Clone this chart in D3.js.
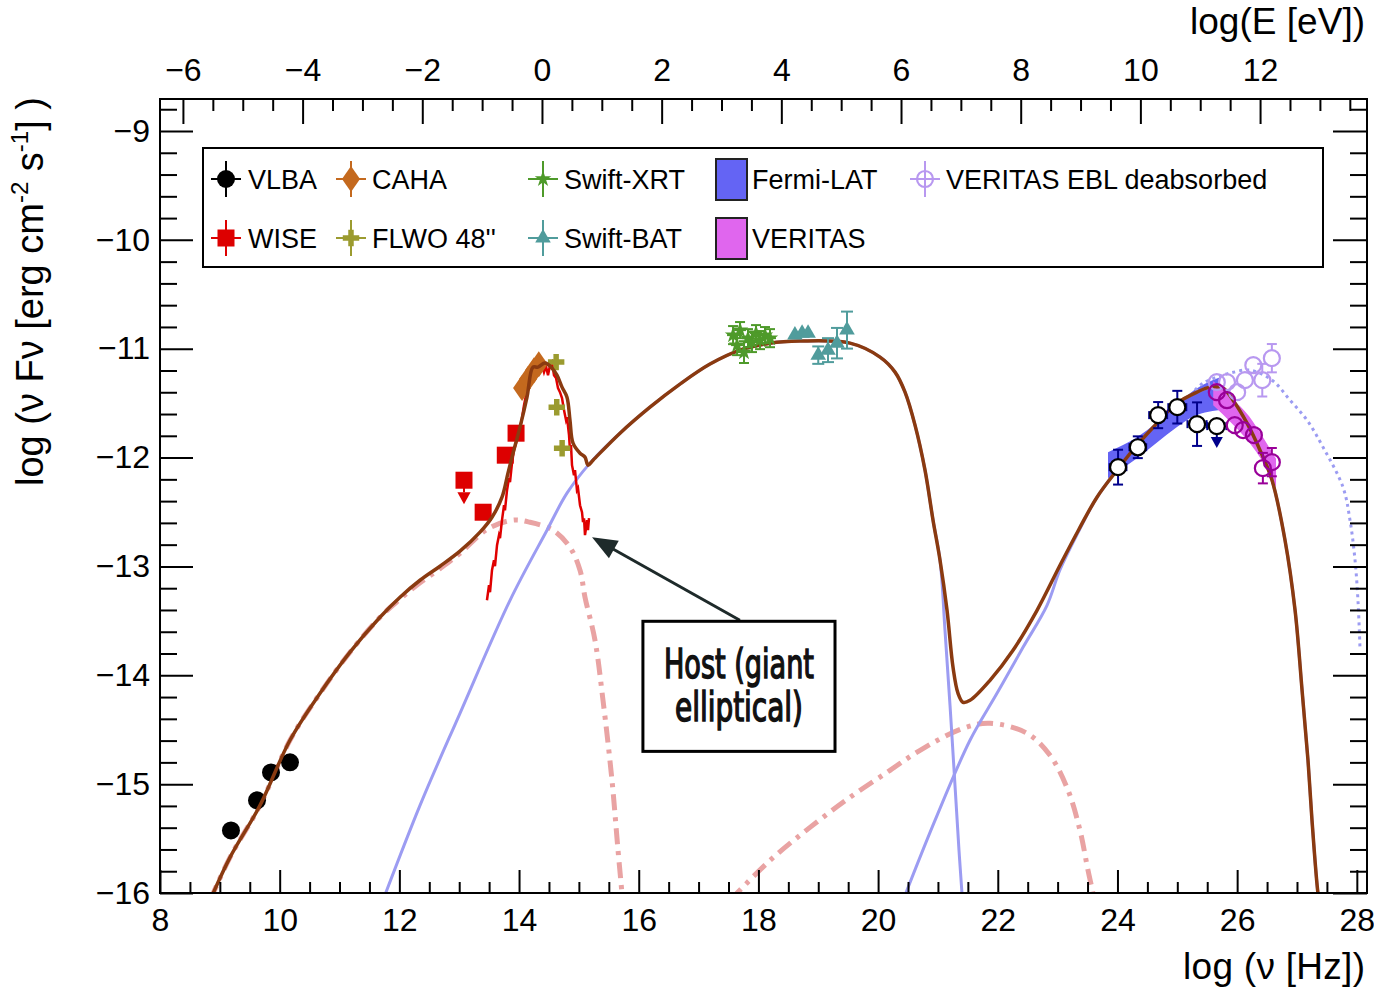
<!DOCTYPE html>
<html>
<head>
<meta charset="utf-8">
<script src="https://cdn.jsdelivr.net/npm/d3@7"></script>
<style>
  html, body { margin: 0; padding: 0; background: #fff; }
  svg { display: block; font-family: "Liberation Sans", Arial, Helvetica, sans-serif; }
</style>
</head>
<body>
<svg id="chart" width="1374" height="991"></svg>
<script>
// ---------------- axis ranges and ticks ----------------
const nuDomain = [8, 28.17];
const fluxDomain = [-16, -8.706];
const logPlanck = 14.383;               // log10(nu/Hz) - log10(E/eV)
const nuMajor = [8, 10, 12, 14, 16, 18, 20, 22, 24, 26, 28];
const nuMinor = d3.range(8, 28.2, 0.5).filter(v => v % 2 !== 0);
const eMajor = [-6, -4, -2, 0, 2, 4, 6, 8, 10, 12];
const eMinor = d3.range(-6, 13.8, 0.5).filter(v => v % 2 !== 0);
const fluxMajor = [-16, -15, -14, -13, -12, -11, -10, -9];
const fluxMinor = d3.range(0, 37).map(i => +(-16 + i * 0.2).toFixed(1)).filter(v => !Number.isInteger(v));

// ---------------- observations ----------------
const vlbaNu   = [9.186, 9.621, 9.855, 10.172];
const vlbaFlux = [-15.425, -15.149, -14.892, -14.800];

const wiseNu   = [13.08, 13.40, 13.77, 13.95];
const wiseFlux = [-12.208, -12.502, -11.978, -11.776];
const wiseUL   = [true, false, false, false];

const cahaNu   = [14.05, 14.15, 14.25, 14.33];
const cahaFlux = [-11.362, -11.279, -11.197, -11.142];

const flwoNu   = [14.62, 14.63, 14.72];
const flwoFlux = [-11.123, -11.537, -11.914];

const xrtNu   = [17.576, 17.643, 17.693, 17.759, 17.826, 17.893, 17.960, 18.027, 18.110, 18.194];
const xrtFlux = [-10.875, -10.967, -10.829, -11.031, -10.903, -10.939, -10.857, -10.921, -10.875, -10.903];
const xrtErr  = [0.083, 0.092, 0.074, 0.10, 0.083, 0.092, 0.074, 0.083, 0.074, 0.083];

const batNu   = [18.61, 18.73, 18.83, 19.00, 19.163, 19.313, 19.480];
const batFlux = [-10.875, -10.857, -10.857, -11.059, -11.013, -10.949, -10.829];
const batErr  = [0, 0, 0, 0.08, 0.11, 0.14, 0.17];

const fermiNu    = [24.01, 24.34, 24.68, 25.00, 25.33, 25.66];
const fermiFlux  = [-12.088, -11.905, -11.610, -11.537, -11.693, -11.711];
const fermiErr   = [0.16, 0.10, 0.12, 0.15, 0.20, 0];
const fermiNuErr = [0.14, 0.14, 0.15, 0.15, 0.16, 0.16];
const fermiUL    = [false, false, false, false, false, true];

const fermiBandNu    = [23.842, 24.327, 24.995, 25.212, 25.714];
const fermiBandUpper = [-11.950, -11.813, -11.518, -11.408, -11.261];
const fermiBandLower = [-12.189, -12.006, -11.720, -11.638, -11.564];

const veritasBandNu    = [25.60, 25.90, 26.20, 26.45, 26.65];
const veritasBandUpper = [-11.30, -11.45, -11.62, -11.83, -12.01];
const veritasBandLower = [-11.52, -11.68, -11.86, -12.06, -12.27];

const veritasNu   = [25.66, 25.83, 25.96, 26.10, 26.28, 26.43, 26.58];
const veritasFlux = [-11.399, -11.473, -11.702, -11.748, -11.794, -12.097, -12.042];
const veritasErr  = [0.03, 0.04, 0.04, 0.05, 0.06, 0.14, 0.13];

const deabsNu   = [25.66, 25.83, 26.00, 26.13, 26.27, 26.42, 26.58];
const deabsFlux = [-11.307, -11.307, -11.399, -11.289, -11.151, -11.289, -11.087];
const deabsErr  = [0.03, 0.04, 0.04, 0.05, 0.06, 0.15, 0.13];

// host galaxy optical spectrum
const hostSpecNu = [13.464,13.498,13.515,13.548,13.581,13.598,13.632,13.665,13.682,13.715,13.749,13.765,13.799,13.832,13.849,13.882,13.916,13.949,13.983,14.016,14.049,14.083,14.116,14.150,14.183,14.217,14.250,14.283,14.317,14.350,14.384,14.417,14.450,14.484,14.517,14.551,14.584,14.618,14.651,14.684,14.718,14.751,14.785,14.801,14.835,14.851,14.868,14.885,14.918,14.935,14.968,14.985,15.019,15.052,15.069,15.086,15.102,15.119,15.136,15.152,15.169];
const hostSpecFlux = [-13.311,-13.173,-13.237,-13.035,-12.943,-12.998,-12.805,-12.713,-12.741,-12.575,-12.438,-12.484,-12.300,-12.189,-12.226,-12.051,-11.932,-11.868,-11.794,-11.730,-11.638,-11.518,-11.427,-11.335,-11.261,-11.197,-11.142,-11.160,-11.123,-11.179,-11.151,-11.215,-11.160,-11.243,-11.151,-11.123,-11.243,-11.270,-11.362,-11.399,-11.454,-11.564,-11.656,-11.629,-11.794,-11.932,-11.886,-12.070,-12.162,-12.116,-12.300,-12.282,-12.438,-12.502,-12.594,-12.557,-12.713,-12.649,-12.575,-12.667,-12.557];

// ---------------- model components ----------------
const totalNu = [8.836,9.170,9.671,10.172,10.674,11.175,11.676,12.011,12.345,12.679,13.013,13.348,13.548,13.715,13.815,13.899,14.016,14.133,14.233,14.317,14.434,14.551,14.634,14.718,14.801,14.851,14.902,15.019,15.102,15.152,15.236,15.687,16.188,16.689,17.191,17.692,18.194,18.695,19.531,20.032,20.283,20.450,20.617,20.784,20.918,21.035,21.152,21.252,21.336,21.419,21.536,21.870,22.255,22.656,23.040,23.350,23.658,23.992,24.327,24.661,24.995,25.329,25.547,25.764,25.931,26.165,26.382,26.583,26.800,26.968,27.085,27.184,27.251,27.351,27.385];
const totalFlux = [-16.068,-15.673,-15.195,-14.597,-14.166,-13.788,-13.467,-13.283,-13.127,-12.998,-12.860,-12.685,-12.548,-12.364,-12.143,-11.960,-11.720,-11.445,-11.169,-11.169,-11.132,-11.179,-11.243,-11.353,-11.445,-11.656,-11.868,-11.960,-11.996,-12.070,-12.024,-11.776,-11.537,-11.325,-11.141,-11.013,-10.949,-10.930,-10.949,-11.077,-11.215,-11.399,-11.702,-12.116,-12.575,-12.943,-13.403,-13.926,-14.166,-14.248,-14.230,-14.046,-13.770,-13.403,-12.989,-12.665,-12.364,-12.116,-11.886,-11.684,-11.500,-11.399,-11.353,-11.362,-11.473,-11.684,-11.932,-12.208,-12.759,-13.403,-14.138,-14.781,-15.333,-16.004,-16.113];

const hostModelNu   = [8.836,9.170,9.671,10.172,10.674,11.175,11.676,12.011,12.345,12.679,13.013,13.464,13.899,14.183,14.567,14.851,15.019,15.102,15.269,15.403,15.553,15.654,15.720,15.737];
const hostModelFlux = [-16.068,-15.673,-15.195,-14.597,-14.166,-13.788,-13.467,-13.300,-13.150,-13.020,-12.880,-12.660,-12.575,-12.594,-12.667,-12.824,-13.035,-13.283,-13.678,-14.230,-14.965,-15.608,-16.004,-16.120];

const syncNu   = [11.693,12.345,13.013,13.849,14.467,14.801,15.186,15.687,16.188,16.689,17.191,17.692,18.194,18.695,19.531,20.032,20.283,20.450,20.617,20.784,20.918,21.035,21.118,21.202,21.285,21.352,21.402,21.419];
const syncFlux = [-16.114,-15.195,-14.349,-13.311,-12.667,-12.327,-12.051,-11.776,-11.537,-11.325,-11.141,-11.013,-10.949,-10.930,-10.949,-11.077,-11.215,-11.399,-11.702,-12.116,-12.575,-12.943,-13.587,-14.276,-15.011,-15.608,-16.004,-16.142];

const sscNu   = [20.416,20.951,21.536,21.987,22.422,22.823,23.040,23.350,23.658,23.992,24.327,24.661,24.995,25.329,25.547,25.764,25.931,26.165,26.382,26.583,26.800,26.968,27.085,27.184,27.251,27.351,27.385];
const sscFlux = [-16.068,-15.333,-14.597,-14.166,-13.743,-13.357,-13.030,-12.680,-12.364,-12.116,-11.886,-11.684,-11.500,-11.399,-11.353,-11.362,-11.473,-11.684,-11.932,-12.208,-12.759,-13.403,-14.138,-14.781,-15.333,-16.004,-16.113];

const ecNu   = [17.525,18.194,18.862,19.531,20.199,20.701,21.419,21.870,22.488,22.873,23.174,23.374,23.508,23.591,23.625];
const ecFlux = [-16.068,-15.700,-15.397,-15.121,-14.873,-14.689,-14.487,-14.441,-14.533,-14.735,-15.057,-15.425,-15.792,-16.004,-16.114];

const deabsModelNu   = [25.296,25.430,25.664,25.881,26.215,26.583,26.884,27.167,27.435,27.769,27.886,27.970,28.019,28.053];
const deabsModelFlux = [-11.381,-11.316,-11.261,-11.224,-11.197,-11.289,-11.473,-11.656,-11.904,-12.272,-12.575,-12.943,-13.311,-13.752];

// ---------------- annotation ----------------
const hostLabelLines = ["Host (giant", "elliptical)"];
const hostBoxNu   = [16.07, 19.28];
const hostBoxFlux = [-13.504, -14.699];
const arrowTail = [17.69, -13.495];
const arrowTip  = [15.22, -12.732];

// ---------------- colours ----------------
const C = {
  total: "#8a3a10", comp: "#9c9cf2", host: "#e9a3a3", spec: "#e00000",
  vlba: "#000000", wise: "#dd0000", caha: "#c4691e", flwo: "#9b9b2f",
  xrt: "#4e9a2a", bat: "#509c9c", fermiBand: "#6464f4", veritasBand: "#e066ee",
  fermiErr: "#00008b", veritas: "#990099", deabs: "#b898f0"
};

// ---------------- layout ----------------
const W = 1374, H = 991;
const plot = { left: 160, right: 1367, top: 99, bottom: 893 };
const FONT = '"Liberation Sans", Arial, Helvetica, sans-serif';

const svg = d3.select("#chart");
svg.append("rect").attr("width", W).attr("height", H).attr("fill", "#fff");

const x  = d3.scaleLinear().domain(nuDomain).range([plot.left, plot.right]);
const xE = d3.scaleLinear().domain(nuDomain.map(v => v - logPlanck)).range([plot.left, plot.right]);
const y  = d3.scaleLinear().domain(fluxDomain).range([plot.bottom, plot.top]);

svg.append("defs").append("clipPath").attr("id", "plotArea")
  .append("rect").attr("x", plot.left).attr("y", plot.top)
  .attr("width", plot.right - plot.left).attr("height", plot.bottom - plot.top);
const g = svg.append("g").attr("clip-path", "url(#plotArea)");

const smooth = d3.line().x(d => x(d[0])).y(d => y(d[1])).curve(d3.curveCatmullRom.alpha(0.5));
const straight = d3.line().x(d => x(d[0])).y(d => y(d[1]));
const band = d3.area().x(d => x(d[0])).y0(d => y(d[2])).y1(d => y(d[1])).curve(d3.curveMonotoneX);

// ---------------- bands ----------------
g.append("path").datum(d3.zip(fermiBandNu, fermiBandUpper, fermiBandLower))
  .attr("d", band).attr("fill", C.fermiBand);
g.append("path").datum(d3.zip(veritasBandNu, veritasBandUpper, veritasBandLower))
  .attr("d", band).attr("fill", C.veritasBand);

// ---------------- model components ----------------
const dashDot = "16,7,4,7";
g.append("path").datum(d3.zip(ecNu, ecFlux)).attr("d", smooth)
  .attr("fill", "none").attr("stroke", C.host).attr("stroke-width", 5).attr("stroke-dasharray", dashDot);
g.append("path").datum(d3.zip(hostModelNu, hostModelFlux)).attr("d", smooth)
  .attr("fill", "none").attr("stroke", C.host).attr("stroke-width", 5).attr("stroke-dasharray", dashDot);
g.append("path").datum(d3.zip(syncNu, syncFlux)).attr("d", smooth)
  .attr("fill", "none").attr("stroke", C.comp).attr("stroke-width", 3);
g.append("path").datum(d3.zip(sscNu, sscFlux)).attr("d", smooth)
  .attr("fill", "none").attr("stroke", C.comp).attr("stroke-width", 3);
g.append("path").datum(d3.zip(deabsModelNu, deabsModelFlux)).attr("d", smooth)
  .attr("fill", "none").attr("stroke", C.comp).attr("stroke-width", 3).attr("stroke-dasharray", "3,4");
g.append("path").datum(d3.zip(hostSpecNu, hostSpecFlux)).attr("d", straight)
  .attr("fill", "none").attr("stroke", C.spec).attr("stroke-width", 2.5).attr("stroke-linejoin", "miter");

// ---------------- marker helpers ----------------
function marker(p, kind, cx, cy, color, fill) {
  switch (kind) {
    case "dot":
      p.append("circle").attr("cx", cx).attr("cy", cy).attr("r", 9).attr("fill", color); break;
    case "square":
      p.append("rect").attr("x", cx - 8.5).attr("y", cy - 8.5).attr("width", 17).attr("height", 17).attr("fill", color); break;
    case "diamond":
      p.append("path").attr("d", `M${cx},${cy - 13}L${cx + 9},${cy}L${cx},${cy + 13}L${cx - 9},${cy}Z`).attr("fill", color); break;
    case "star":
      p.append("path").attr("transform", `translate(${cx},${cy})`).attr("d", d3.symbol(d3.symbolStar, 85)()).attr("fill", color); break;
    case "plus":
      p.append("path").attr("transform", `translate(${cx},${cy})`).attr("d", d3.symbol(d3.symbolCross, 150)()).attr("fill", color); break;
    case "triangle":
      p.append("path").attr("transform", `translate(${cx},${cy})`).attr("d", d3.symbol(d3.symbolTriangle, 105)()).attr("fill", color); break;
    case "ring":
      p.append("circle").attr("cx", cx).attr("cy", cy).attr("r", 8).attr("fill", fill || "none").attr("stroke", color).attr("stroke-width", 2.2); break;
  }
}
function seg(p, x1, y1, x2, y2, color, w) {
  p.append("line").attr("x1", x1).attr("y1", y1).attr("x2", x2).attr("y2", y2)
    .attr("stroke", color).attr("stroke-width", w || 2);
}
// vertical error bar with caps, leaving a gap of r around the marker
function vErr(p, cx, cy, yTop, yBot, color, r, cap) {
  if (yTop < cy - r) { seg(p, cx, cy - r, cx, yTop, color); seg(p, cx - cap, yTop, cx + cap, yTop, color); }
  if (yBot > cy + r) { seg(p, cx, cy + r, cx, yBot, color); seg(p, cx - cap, yBot, cx + cap, yBot, color); }
}
function hErr(p, cy, cx, xL, xR, color, r, cap) {
  if (xL < cx - r) { seg(p, cx - r, cy, xL, cy, color); seg(p, xL, cy - cap, xL, cy + cap, color); }
  if (xR > cx + r) { seg(p, cx + r, cy, xR, cy, color); seg(p, xR, cy - cap, xR, cy + cap, color); }
}
function downArrow(p, cx, cy, len, color, head) {
  seg(p, cx, cy, cx, cy + len - head, color, 2);
  p.append("path").attr("d", `M${cx - head * 0.55},${cy + len - head}L${cx + head * 0.55},${cy + len - head}L${cx},${cy + len}Z`).attr("fill", color);
}

// ---------------- low-energy data (under the total model) ----------------
vlbaNu.forEach((n, i) => marker(g, "dot", x(n), y(vlbaFlux[i]), C.vlba));
wiseNu.forEach((n, i) => {
  if (wiseUL[i]) downArrow(g, x(n), y(wiseFlux[i]), 24, C.wise, 12);
  marker(g, "square", x(n), y(wiseFlux[i]), C.wise);
});
cahaNu.forEach((n, i) => marker(g, "diamond", x(n), y(cahaFlux[i]), C.caha));
flwoNu.forEach((n, i) => marker(g, "plus", x(n), y(flwoFlux[i]), C.flwo));

// ---------------- total model ----------------
g.append("path").datum(d3.zip(totalNu, totalFlux)).attr("d", smooth)
  .attr("fill", "none").attr("stroke", C.total).attr("stroke-width", 3.5).attr("stroke-linejoin", "round");

// ---------------- X-ray and gamma-ray data ----------------
xrtNu.forEach((n, i) => {
  const cx = x(n), cy = y(xrtFlux[i]);
  vErr(g, cx, cy, y(xrtFlux[i] + xrtErr[i]), y(xrtFlux[i] - xrtErr[i]), C.xrt, 0, 5);
  hErr(g, cy, cx, cx - 6, cx + 6, C.xrt, 0, 0);
  marker(g, "star", cx, cy, C.xrt);
});
batNu.forEach((n, i) => {
  const cx = x(n), cy = y(batFlux[i]);
  if (batErr[i] > 0) vErr(g, cx, cy, y(batFlux[i] + batErr[i]), y(batFlux[i] - batErr[i]), C.bat, 0, 6);
  marker(g, "triangle", cx, cy, C.bat);
});
fermiNu.forEach((n, i) => {
  const cx = x(n), cy = y(fermiFlux[i]);
  hErr(g, cy, cx, x(n - fermiNuErr[i]), x(n + fermiNuErr[i]), C.fermiErr, 8, 4);
  if (fermiUL[i]) downArrow(g, cx, cy, 22, C.fermiErr, 11);
  else vErr(g, cx, cy, y(fermiFlux[i] + fermiErr[i]), y(fermiFlux[i] - fermiErr[i]), C.fermiErr, 8, 5);
  marker(g, "ring", cx, cy, "#000", "#fff");
});
deabsNu.forEach((n, i) => {
  const cx = x(n), cy = y(deabsFlux[i]);
  vErr(g, cx, cy, y(deabsFlux[i] + deabsErr[i]), y(deabsFlux[i] - deabsErr[i]), C.deabs, 8, 5);
  marker(g, "ring", cx, cy, C.deabs);
});
veritasNu.forEach((n, i) => {
  const cx = x(n), cy = y(veritasFlux[i]);
  vErr(g, cx, cy, y(veritasFlux[i] + veritasErr[i]), y(veritasFlux[i] - veritasErr[i]), C.veritas, 8, 5);
  marker(g, "ring", cx, cy, C.veritas);
});

// ---------------- host galaxy annotation ----------------
{
  const tx = x(arrowTail[0]), ty = y(arrowTail[1]);
  const hx = x(arrowTip[0]), hy = y(arrowTip[1]);
  const len = Math.hypot(hx - tx, hy - ty), ux = (hx - tx) / len, uy = (hy - ty) / len;
  const headL = 25, headW = 10;
  const bx = hx - ux * headL, by = hy - uy * headL;
  seg(svg, tx, ty, bx + ux * 2, by + uy * 2, "#1e2a2a", 3);
  svg.append("path")
    .attr("d", `M${hx},${hy}L${bx - uy * headW},${by + ux * headW}L${bx + uy * headW},${by - ux * headW}Z`)
    .attr("fill", "#1e2a2a");

  const bx0 = x(hostBoxNu[0]), bx1 = x(hostBoxNu[1]);
  const by0 = y(hostBoxFlux[0]), by1 = y(hostBoxFlux[1]);
  svg.append("rect").attr("x", bx0).attr("y", by0).attr("width", bx1 - bx0).attr("height", by1 - by0)
    .attr("fill", "#fff").attr("stroke", "#000").attr("stroke-width", 3);
  const mid = (bx0 + bx1) / 2;
  const widths = [150, 128];
  hostLabelLines.forEach((t, i) => {
    svg.append("text").attr("x", mid).attr("y", by0 + 57 + i * 43)
      .attr("text-anchor", "middle")
      .attr("font-family", '"Liberation Sans Narrow", "DejaVu Sans Condensed", "Roboto Condensed", sans-serif')
      .attr("font-stretch", "condensed").attr("font-weight", "normal")
      .attr("stroke", "#111").attr("stroke-width", 1.4)
      .attr("font-size", 40).attr("textLength", widths[i]).attr("lengthAdjust", "spacingAndGlyphs")
      .attr("fill", "#111").text(t);
  });
}

// ---------------- frame & axes ----------------
svg.append("rect").attr("x", plot.left).attr("y", plot.top)
  .attr("width", plot.right - plot.left).attr("height", plot.bottom - plot.top)
  .attr("fill", "none").attr("stroke", "#000").attr("stroke-width", 2);

function axis(gen, tx, ty) {
  const a = svg.append("g").attr("transform", `translate(${tx},${ty})`).call(gen);
  a.select(".domain").remove();
  a.attr("font-family", FONT).attr("font-size", 32);
  a.selectAll("line").attr("stroke", "#000").attr("stroke-width", 2);
  a.selectAll("text").attr("fill", "#000");
  return a;
}
const fmt = d3.format("d");
axis(d3.axisBottom(x).tickValues(nuMajor).tickSize(-23).tickPadding(15).tickFormat(fmt), 0, plot.bottom);
axis(d3.axisBottom(x).tickValues(nuMinor).tickSize(-11).tickFormat(""), 0, plot.bottom);
axis(d3.axisTop(xE).tickValues(eMajor).tickSize(-25).tickPadding(18).tickFormat(fmt), 0, plot.top);
axis(d3.axisTop(xE).tickValues(eMinor).tickSize(-12).tickFormat(""), 0, plot.top);
axis(d3.axisLeft(y).tickValues(fluxMajor).tickSize(-33).tickPadding(10).tickFormat(fmt), plot.left, 0);
axis(d3.axisLeft(y).tickValues(fluxMinor).tickSize(-17).tickFormat(""), plot.left, 0);
axis(d3.axisRight(y).tickValues(fluxMajor).tickSize(-34).tickFormat(""), plot.right, 0);
axis(d3.axisRight(y).tickValues(fluxMinor).tickSize(-17).tickFormat(""), plot.right, 0);

// axis titles
svg.append("text").attr("x", 1365).attr("y", 979).attr("text-anchor", "end")
  .attr("font-family", FONT).attr("font-size", 37).attr("textLength", 182).text("log (\u03bd [Hz])");
svg.append("text").attr("x", 1365).attr("y", 34).attr("text-anchor", "end")
  .attr("font-family", FONT).attr("font-size", 37).attr("textLength", 175).text("log(E [eV])");
{
  const t = svg.append("text").attr("transform", "translate(43,97) rotate(-90)")
    .attr("text-anchor", "end").attr("font-family", FONT).attr("font-size", 38);
  t.append("tspan").text("log (\u03bd F\u03bd [erg cm");
  t.append("tspan").attr("font-size", 24).attr("dy", -15).text("-2");
  t.append("tspan").attr("dy", 15).text(" s");
  t.append("tspan").attr("font-size", 24).attr("dy", -15).text("-1");
  t.append("tspan").attr("dy", 15).text("] )");
}

// ---------------- legend ----------------
const legendColMarkerX = [226, 351, 543, 731, 925];
const legendColTextX   = [248, 372, 564, 752, 946];
const legendRowY       = [179, 238];
const legendEntries = [
  { label: "VLBA", kind: "dot", color: C.vlba, col: 0, row: 0 },
  { label: "WISE", kind: "square", color: C.wise, col: 0, row: 1 },
  { label: "CAHA", kind: "diamond", color: C.caha, col: 1, row: 0 },
  { label: "FLWO 48''", kind: "plus", color: C.flwo, col: 1, row: 1 },
  { label: "Swift-XRT", kind: "star", color: C.xrt, col: 2, row: 0 },
  { label: "Swift-BAT", kind: "triangle", color: C.bat, col: 2, row: 1 },
  { label: "Fermi-LAT", kind: "box", color: C.fermiBand, col: 3, row: 0 },
  { label: "VERITAS", kind: "box", color: C.veritasBand, col: 3, row: 1 },
  { label: "VERITAS EBL deabsorbed", kind: "ring", color: C.deabs, col: 4, row: 0 }
];
const lg = svg.append("g");
lg.append("rect").attr("x", 203).attr("y", 148).attr("width", 1120).attr("height", 119)
  .attr("fill", "#fff").attr("stroke", "#000").attr("stroke-width", 2);
legendEntries.forEach(e => {
  const cx = legendColMarkerX[e.col], cy = legendRowY[e.row];
  if (e.kind === "box") {
    lg.append("rect").attr("x", cx - 15).attr("y", cy - 20).attr("width", 31).attr("height", 41)
      .attr("fill", e.color).attr("stroke", "#222").attr("stroke-width", 2);
  } else {
    seg(lg, cx - 15, cy, cx + 15, cy, e.color, 2);
    seg(lg, cx, cy - 18, cx, cy + 18, e.color, 2);
    marker(lg, e.kind, cx, cy, e.color);
  }
  lg.append("text").attr("x", legendColTextX[e.col]).attr("y", cy + 9.5)
    .attr("font-family", FONT).attr("font-size", 27).attr("fill", "#000").text(e.label);
});
</script>
</body>
</html>
